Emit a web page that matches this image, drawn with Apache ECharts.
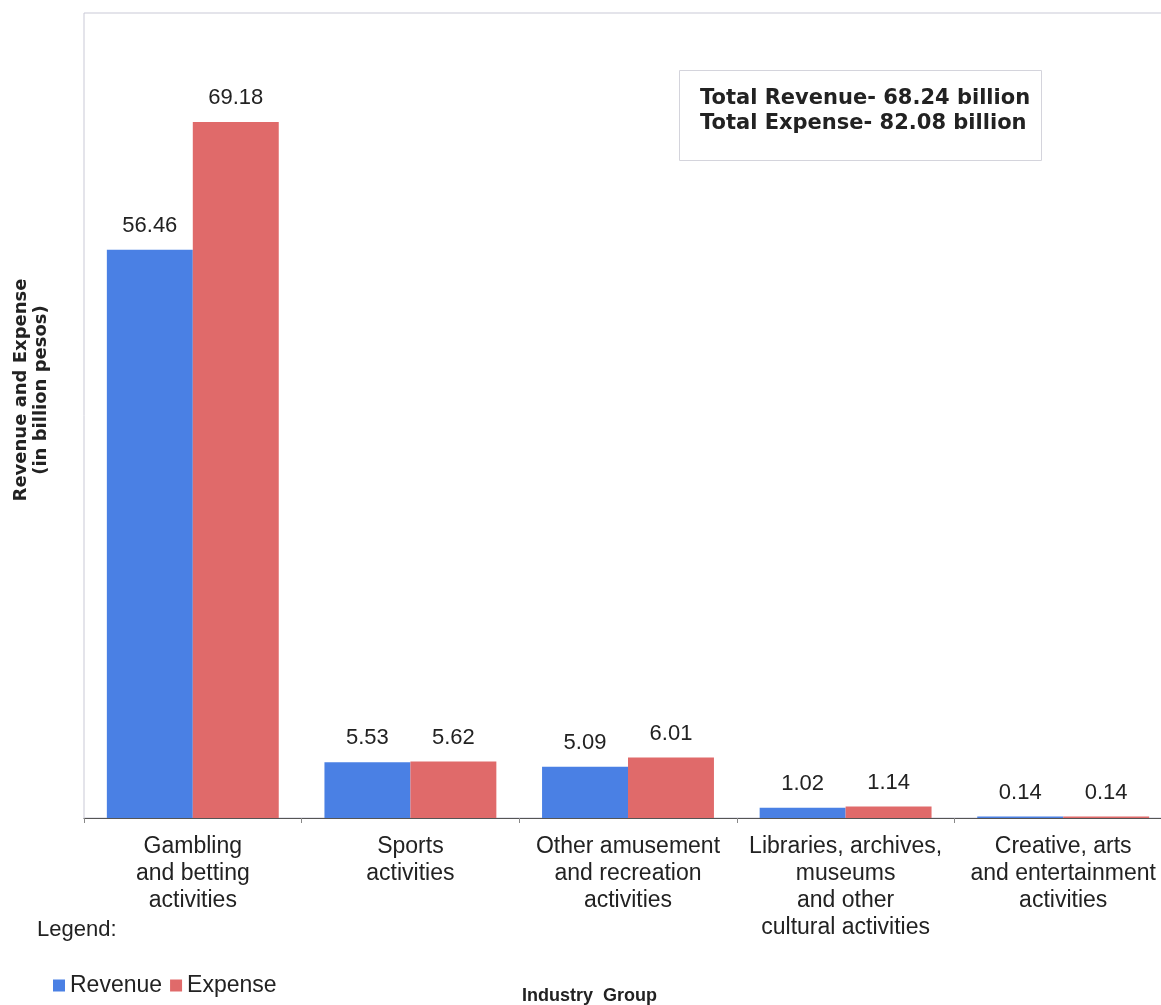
<!DOCTYPE html>
<html>
<head>
<meta charset="utf-8">
<script src="https://cdn.jsdelivr.net/npm/echarts@6/dist/echarts.min.js"></script>
<style>
  html, body { margin: 0; padding: 0; background: #fff; overflow: hidden; }
  #chart { width: 1175px; height: 1005px; }
</style>
</head>
<body>
<div id="chart"></div>
<script>
const categories = [
  'Gambling\nand betting\nactivities',
  'Sports\nactivities',
  'Other amusement\nand recreation\nactivities',
  'Libraries, archives,\nmuseums\nand other\ncultural activities',
  'Creative, arts\nand entertainment\nactivities'
]
const revenue = [56.46, 5.53, 5.09, 1.02, 0.14]
const expense = [69.18, 5.62, 6.01, 1.14, 0.14]
const totals = ['Total Revenue- 68.24 billion', 'Total Expense- 82.08 billion']

const font = 'Liberation Sans, Arial, sans-serif'
const chart = echarts.init(document.getElementById('chart'))

const labelStyle = {
  show: true,
  position: 'top',
  distance: 13,
  color: '#222',
  fontSize: 22,
  fontFamily: font,
  formatter: p => p.value.toFixed(2)
}

chart.setOption({
  animation: false,
  textStyle: { fontFamily: font },
  grid: {
    left: 84,
    top: 13,
    right: 3,
    bottom: 187,
    show: true,
    borderColor: '#c9c9d6',
    borderWidth: 1
  },
  legend: {
    left: 48,
    top: 969,
    itemWidth: 12,
    itemHeight: 12,
    itemGap: 8,
    icon: 'rect',
    textStyle: { fontSize: 23, color: '#222', fontFamily: font },
    data: ['Revenue', 'Expense']
  },
  xAxis: {
    type: 'category',
    data: categories,
    axisLine: { lineStyle: { color: '#555', width: 1.2 } },
    axisTick: { show: true, length: 5, lineStyle: { color: '#888' } },
    axisLabel: {
      interval: 0,
      margin: 15,
      fontSize: 23,
      lineHeight: 27,
      color: '#222',
      fontFamily: font
    }
  },
  yAxis: {
    type: 'value',
    min: 0,
    max: 80,
    show: false
  },
  graphic: [
    {
      type: 'text',
      x: 31,
      y: 390,
      rotation: Math.PI / 2,
      style: {
        text: 'Revenue and Expense\n(in billion pesos)',
        font: 'bold 18px DejaVu Sans, sans-serif',
        lineHeight: 20,
        align: 'center',
        verticalAlign: 'middle',
        fill: '#222'
      }
    },
    {
      type: 'rect',
      left: 679,
      top: 70,
      shape: { width: 362, height: 90 },
      style: { fill: '#fff', stroke: '#d4d4dc', lineWidth: 1 }
    },
    {
      type: 'text',
      left: 700,
      top: 86,
      style: {
        text: totals.join('\n'),
        font: 'bold 21px DejaVu Sans, sans-serif',
        lineHeight: 25,
        fill: '#222'
      }
    },
    {
      type: 'text',
      left: 37,
      top: 919,
      style: { text: 'Legend:', font: '22px ' + font, fill: '#222' }
    },
    {
      type: 'text',
      left: 522,
      top: 987,
      style: { text: 'Industry  Group', font: 'bold 18px ' + font, fill: '#222' }
    }
  ],
  series: [
    {
      name: 'Revenue',
      type: 'bar',
      data: revenue,
      barGap: '0%',
      barCategoryGap: '21%',
      itemStyle: { color: '#4a80e4' },
      label: labelStyle
    },
    {
      name: 'Expense',
      type: 'bar',
      data: expense,
      itemStyle: { color: '#e06a6a' },
      label: labelStyle
    }
  ]
})

window.onresize = function() {
  chart.resize()
}
</script>
</body>
</html>
